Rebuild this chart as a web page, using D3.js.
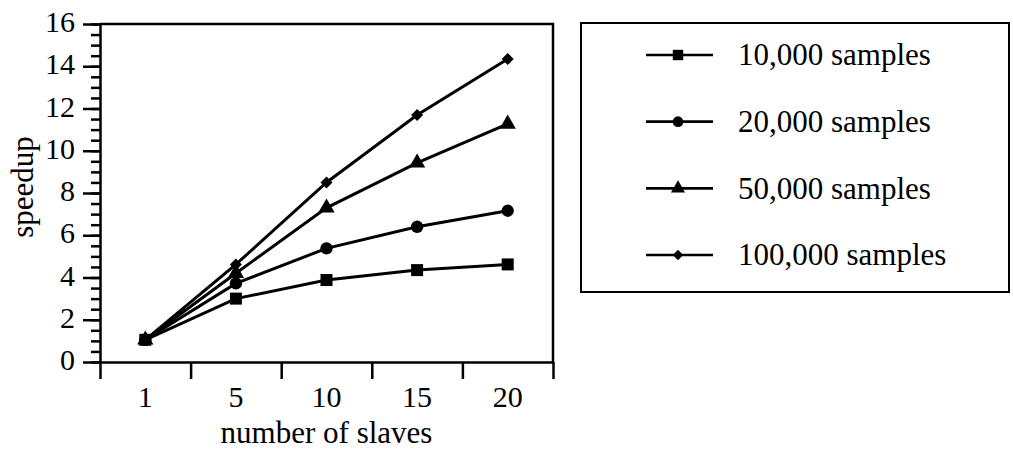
<!DOCTYPE html>
<html>
<head>
<meta charset="utf-8">
<script src="https://cdn.jsdelivr.net/npm/d3@7"></script>
<style>
  html, body { margin: 0; padding: 0; background: #fff; }
  svg { display: block; }
  svg text { font-family: "Liberation Serif", "Times New Roman", "DejaVu Serif", serif; fill: #000; }
</style>
</head>
<body>
<svg id="chart" width="1013" height="453"></svg>
<script>
// data
const slaves = ["1", "5", "10", "15", "20"];
const s10k = [1.05, 3.0, 3.88, 4.35, 4.62];
const s20k = [1.05, 3.72, 5.38, 6.4, 7.16];
const s50k = [1.05, 4.2, 7.3, 9.43, 11.27];
const s100k = [1.05, 4.62, 8.5, 11.69, 14.34];
const seriesNames = ["10,000 samples", "20,000 samples", "50,000 samples", "100,000 samples"];
const yTicks = [0, 2, 4, 6, 8, 10, 12, 14, 16];
const yMinor = d3.range(0, 16.01, 0.5);

const FONT = "Liberation Serif, Times New Roman, DejaVu Serif, serif";

const series = [
    {name: seriesNames[0], values: s10k, shape: d3.symbolSquare, size: 144, rot: 0},
    {name: seriesNames[1], values: s20k, shape: d3.symbolCircle, size: 120, rot: 0},
    {name: seriesNames[2], values: s50k, shape: d3.symbolTriangle, size: 115, rot: 0},
    {name: seriesNames[3], values: s100k, shape: d3.symbolSquare, size: 72, rot: 45},
];

const m = {top: 24, right: 460, bottom: 91, left: 100};
const W = 1013, H = 453;
const svg = d3.select("#chart");

const x = d3.scaleBand().domain(slaves).range([m.left, W - m.right]);
const xEdge = d3.scaleLinear().domain([0, slaves.length]).range([m.left, W - m.right]);
const y = d3.scaleLinear().domain([0, 16]).range([H - m.bottom, m.top]);

// frame top + right
svg.append("path")
    .attr("d", `M${m.left},${y(16)}H${W - m.right}V${y(0)}`)
    .attr("fill", "none").attr("stroke", "#000").attr("stroke-width", 2.5);

// minor y ticks
svg.append("g")
    .attr("transform", `translate(${m.left},0)`)
    .call(d3.axisLeft(y).tickValues(yMinor).tickSize(9).tickFormat(""))
    .call(g => g.selectAll("line").attr("stroke-width", 2.5))
    .call(g => g.select(".domain").remove());

// major y ticks + labels
svg.append("g")
    .attr("transform", `translate(${m.left},0)`)
    .attr("font-family", FONT)
    .call(d3.axisLeft(y).tickValues(yTicks).tickSize(17).tickSizeOuter(0).tickPadding(8))
    .call(g => g.selectAll("line").attr("stroke-width", 2.5))
    .call(g => g.select(".domain").attr("stroke-width", 2.5))
    .call(g => g.selectAll("text").attr("font-size", 30).attr("font-family", FONT).attr("dy", "0.25em"));

// x ticks at band edges
svg.append("g")
    .attr("transform", `translate(0,${y(0)})`)
    .call(d3.axisBottom(xEdge).tickValues(d3.range(0, slaves.length + 1)).tickSize(17).tickSizeOuter(0).tickFormat(""))
    .call(g => g.selectAll("line").attr("stroke-width", 2.5))
    .call(g => g.select(".domain").attr("stroke-width", 2.5));

// x labels at band centres
svg.append("g")
    .attr("transform", `translate(0,${y(0)})`)
    .attr("font-family", FONT)
    .call(d3.axisBottom(x).tickSize(0).tickPadding(24))
    .call(g => g.select(".domain").remove())
    .call(g => g.selectAll("text").attr("font-size", 30).attr("font-family", FONT));

// axis titles
svg.append("text")
    .attr("x", (m.left + W - m.right) / 2).attr("y", 443)
    .attr("text-anchor", "middle").attr("font-size", 31).attr("font-family", FONT)
    .text("number of slaves");

svg.append("text")
    .attr("transform", "translate(33,187) rotate(-90)")
    .attr("text-anchor", "middle").attr("font-size", 31).attr("font-family", FONT)
    .text("speedup");

// lines + markers
const line = d3.line()
    .x((d, i) => x(slaves[i]) + x.bandwidth() / 2)
    .y(d => y(d));

for (const s of series) {
    svg.append("path")
        .datum(s.values)
        .attr("d", line)
        .attr("fill", "none").attr("stroke", "#000").attr("stroke-width", 3);
    svg.append("g").selectAll("path")
        .data(s.values)
        .join("path")
        .attr("transform", (d, i) => `translate(${x(slaves[i]) + x.bandwidth() / 2},${y(d)}) rotate(${s.rot})`)
        .attr("d", d3.symbol(s.shape, s.size))
        .attr("fill", "#000");
}

// legend
const lg = svg.append("g");
lg.append("rect")
    .attr("x", 581).attr("y", 23).attr("width", 428).attr("height", 269)
    .attr("fill", "none").attr("stroke", "#000").attr("stroke-width", 2);

const rowY = d3.scalePoint().domain(seriesNames).range([55, 255]);
const rows = lg.selectAll("g.row")
    .data(series)
    .join("g")
    .attr("class", "row")
    .attr("transform", d => `translate(0,${rowY(d.name)})`);

rows.append("line")
    .attr("x1", 646).attr("x2", 713)
    .attr("stroke", "#000").attr("stroke-width", 2.7);
rows.append("path")
    .attr("transform", d => `translate(678,0) rotate(${d.rot})`)
    .attr("d", d => d3.symbol(d.shape, d.size * 0.75)())
    .attr("fill", "#000");
rows.append("text")
    .attr("x", 738).attr("dy", "0.33em")
    .attr("font-size", 31).attr("font-family", FONT)
    .text(d => d.name);
</script>
</body>
</html>
